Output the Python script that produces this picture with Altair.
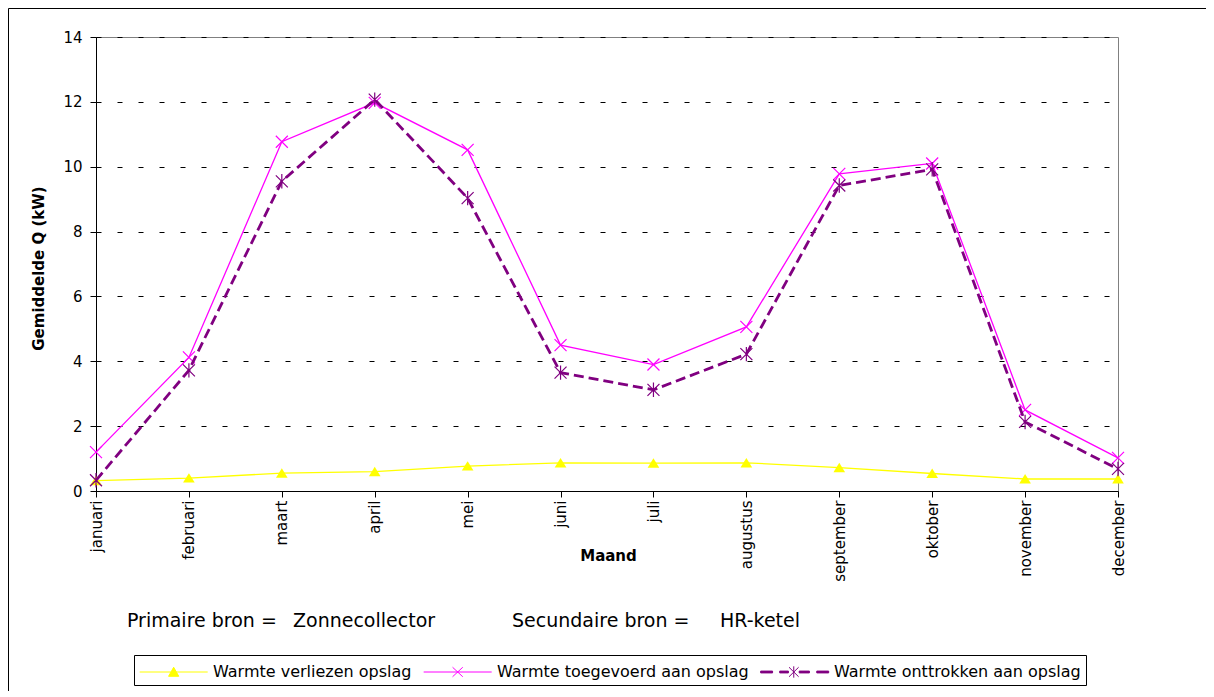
import altair as alt
import pandas as pd

months = ["januari", "februari", "maart", "april", "mei", "juni", "juli",
          "augustus", "september", "oktober", "november", "december"]
verliezen = [0.32, 0.40, 0.55, 0.60, 0.77, 0.87, 0.86, 0.87, 0.72, 0.54, 0.37, 0.37]
toegevoerd = [1.2, 4.12, 10.77, 11.97, 10.52, 4.5, 3.9, 5.06, 9.78, 10.1, 2.5, 1.02]
onttrokken = [0.33, 3.72, 9.55, 12.07, 9.03, 3.65, 3.12, 4.22, 9.42, 9.92, 2.13, 0.68]

series = ["Warmte verliezen opslag", "Warmte toegevoerd aan opslag", "Warmte onttrokken aan opslag"]
colors = ["#FFFF00", "#FF00FF", "#800080"]

rows = []
for name, vals in zip(series, [verliezen, toegevoerd, onttrokken]):
    for m, v in zip(months, vals):
        rows.append({"maand": m, "serie": name, "waarde": v})
df = pd.DataFrame(rows)
dummy = pd.DataFrame({"a": [0]})

FONT = "DejaVu Sans"

x_enc = alt.X("maand:N", sort=months,
              scale=alt.Scale(type="point", padding=0),
              axis=alt.Axis(title="Maand", labelAngle=-90, grid=False,
                            tickSize=6, labelPadding=3, titleX=512, titleY=69,
                            titleFontSize=15,
                            titleBaseline="alphabetic", titleAnchor="start", titleAlign="center"))
y_enc = alt.Y("waarde:Q", scale=alt.Scale(domain=[0, 14], nice=False),
              axis=alt.Axis(title="Gemiddelde Q (kW)", values=[0, 2, 4, 6, 8, 10, 12, 14],
                            grid=True, gridDash=[5, 16], gridColor="black", gridWidth=1,
                            tickSize=6, labelPadding=8, titleAngle=-90, titleFontSize=15,
                            titleX=-58, titleY=231, titleBaseline="middle", titleAlign="center"))

base = alt.Chart(df)

TRI = "M0,-0.8L0.95,0.75L-0.95,0.75Z"
XM = "M-1,-1L1,1M-1,1L1,-1"
AST = "M-1,-1L1,1M-1,1L1,-1M0,-1.2V1.2"

def sel(name):
    return base.transform_filter(alt.datum.serie == name)

yl_line = sel(series[0]).mark_line(color=colors[0], strokeWidth=1.3).encode(x=x_enc, y=y_enc)
yl_pts = sel(series[0]).mark_point(shape=TRI, filled=True, color=colors[0], size=150, opacity=1).encode(x=x_enc, y=y_enc)
pk_line = sel(series[1]).mark_line(color=colors[1], strokeWidth=1.3).encode(x=x_enc, y=y_enc)
pk_pts = sel(series[1]).mark_point(shape=XM, filled=False, color=colors[1], size=144, strokeWidth=1.2, opacity=1).encode(x=x_enc, y=y_enc)
pu_line = sel(series[2]).mark_line(color=colors[2], strokeWidth=2.8, strokeDash=[10, 5]).encode(x=x_enc, y=y_enc)
pu_pts = sel(series[2]).mark_point(shape=AST, filled=False, color=colors[2], size=144, strokeWidth=1.2, opacity=1).encode(x=x_enc, y=y_enc)

# legend symbols
LEG_Y = "M-1,0H5M2,-0.42L2.45,0.38L1.55,0.38Z"
LEG_P = "M-1,0H5M1.55,-0.42L2.45,0.42M1.55,0.42L2.45,-0.42"
LEG_U = ("M-1,-0.08H0.05V0.08H-1Z M0.68,-0.08H1.45V0.08H0.68Z M2.4,-0.08H3.3V0.08H2.4Z "
         "M3.95,-0.08H5V0.08H3.95Z M1.5,-0.42L2.35,0.42M1.5,0.42L2.35,-0.42M1.92,-0.5V0.5")

leg = alt.Legend(orient="none", legendX=38, legendY=618, direction="horizontal",
                 strokeColor="black", fillColor="white", padding=5, symbolSize=514,
                 symbolStrokeWidth=1, labelOffset=50, columnPadding=9,
                 labelFont=FONT, labelFontSize=16, labelColor="black", title=None,
                 symbolLimit=0, cornerRadius=0, labelLimit=0)

legend_layer = base.transform_filter("false").mark_point(filled=True, opacity=1).encode(
    shape=alt.Shape("serie:N", scale=alt.Scale(domain=series, range=[LEG_Y, LEG_P, LEG_U]), legend=leg),
    fill=alt.Fill("serie:N", scale=alt.Scale(domain=series, range=colors), legend=leg),
    stroke=alt.Stroke("serie:N", scale=alt.Scale(domain=series, range=colors), legend=leg),
)

def txt(s, x, y):
    return alt.Chart(dummy).mark_text(align="left", baseline="alphabetic", font=FONT,
                                      fontSize=19, color="black").encode(
        x=alt.value(x), y=alt.value(y), text=alt.value(s))

texts = (txt("Primaire bron =", 31, 590) + txt("Zonnecollector", 197, 590) +
         txt("Secundaire bron =", 416, 590) + txt("HR-ketel", 624, 590))

frame_top = alt.Chart(dummy).mark_rule(color="black", strokeWidth=1).encode(
    x=alt.value(-87.5), x2=alt.value(1120), y=alt.value(-28.5))
frame_left = alt.Chart(dummy).mark_rule(color="black", strokeWidth=1).encode(
    x=alt.value(-87.5), y=alt.value(-28.5), y2=alt.value(700))

chart = alt.layer(
    frame_top, frame_left,
    yl_line, yl_pts, pk_line, pk_pts, pu_line, pu_pts,
    legend_layer, texts
).properties(
    width=1022, height=454,
    autosize=alt.AutoSizeParams(type="none"),
    padding={"left": 88, "top": 29, "right": 88, "bottom": 200},
).configure_view(
    stroke="#808080", strokeWidth=1
).configure_axis(
    labelFont=FONT, labelFontSize=15, labelColor="black",
    titleFont=FONT, titleFontSize=14, titleFontWeight="bold", titleColor="black",
    domainColor="black", tickColor="black", domainWidth=1, tickWidth=1
)

chart.save("out.html", embed_options={"renderer": "svg", "actions": False})
